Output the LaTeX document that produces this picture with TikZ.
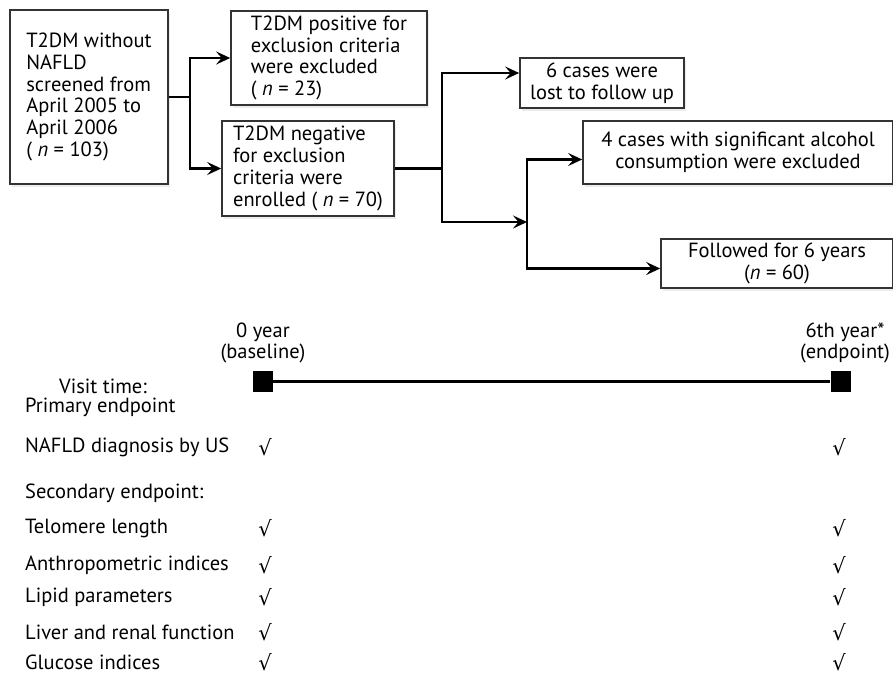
\documentclass[tikz,border=0pt]{standalone}
\usepackage{fontspec}
\setmainfont{PT Sans}
\newfontfamily\checkfont{DejaVu Sans}
\usetikzlibrary{arrows.meta,shadows}

\begin{document}
\begin{tikzpicture}[x=1pt, y=-1pt, font=\fontsize{20.5}{21.8}\selectfont,
  box/.style={draw=black!80, line width=1.7pt, fill=white, align=left, inner sep=3pt,
    drop shadow={opacity=0.15, shadow xshift=2pt, shadow yshift=-2.5pt}},
  arr/.style={line width=2.6pt, -{Stealth[length=14pt, width=13pt, inset=5.5pt]}},
  link/.style={line width=2.6pt},
  tick/.style={font=\checkfont\fontsize{21}{22}\selectfont},
  row/.style={anchor=west, inner sep=0pt}]
  \useasboundingbox (0,0) rectangle (893,675);
  % flow chart, top part
  \node[box, minimum width=158, minimum height=174] (screen) at (89,97)
    {T2DM without\\NAFLD\\screened from\\April 2005 to\\April 2006\\( \textit{n} = 103)};
  \node[box, minimum width=196, minimum height=94] (excl) at (329,58)
    {T2DM positive for\\exclusion criteria\\were excluded\\( \textit{n} = 23)};
  \node[box, minimum width=172, minimum height=95] (enrol) at (308,168.5)
    {T2DM negative\\for exclusion\\criteria were\\enrolled ( \textit{n} = 70)};
  \node[box, align=center, minimum width=164, minimum height=50] (lost) at (602,83)
    {6 cases were\\lost to follow up};
  \node[box, align=center, minimum width=310, minimum height=63] (alc) at (738,152.5)
    {4 cases with significant alcohol\\consumption were excluded};
  \node[box, align=center, minimum width=232, minimum height=49] (fol) at (777,263.5)
    {Followed for 6 years\\(\textit{n} = 60)};
  % split points
  \coordinate (s1) at (190,97);
  \coordinate (s2) at (442,168.5);
  \coordinate (s3) at (527,222);
  \draw[link] (screen.east) -- (s1);
  \draw[arr] (s1) |- (excl.west);
  \draw[arr] (s1) |- (enrol.west);
  \draw[link] (enrol.east) -- (s2);
  \draw[arr] (s2) |- ([yshift=10pt]lost.west);
  \draw[arr] (s2) |- (s3);
  \draw[arr] (s3) |- ([yshift=-7pt]alc.west);
  \draw[arr] (s3) |- ([yshift=-5pt]fol.west);
  % time line
  \node[fill=black, minimum width=20, minimum height=21, inner sep=0pt] (base) at (263,381.5) {};
  \node[fill=black, minimum width=20, minimum height=21, inner sep=0pt] (endp) at (840.5,381.5) {};
  \draw[line width=2.6pt] (base) -- (endp);
  \node[align=center, inner sep=0pt] (lbase) at (263,343) {0 year\\(baseline)};
  \node[align=center, inner sep=0pt] (lendp) at (845,343) {6th year*\\(endpoint)};
  \node[inner sep=0pt] (visit) at (103,386) {Visit time:};
  % endpoints
  \node[row] (prim) at (25,407) {Primary endpoint};
  \node[row] (nafld) at (25,447) {NAFLD diagnosis by US};
  \node[row] (sec) at (25,493) {Secondary endpoint:};
  \node[row] (telo) at (25,528) {Telomere length};
  \node[row] (anth) at (25,565) {Anthropometric indices};
  \node[row] (lipid) at (25,597) {Lipid parameters};
  \node[row] (liver) at (25,632) {Liver and renal function};
  \node[row] (gluc) at (25,662) {Glucose indices};
  % checks at baseline and endpoint
  \node[tick] (c1a) at (265,447) {√};  \node[tick] (c1b) at (839,447) {√};
  \node[tick] (c2a) at (265,528) {√};  \node[tick] (c2b) at (839,528) {√};
  \node[tick] (c3a) at (265,565) {√};  \node[tick] (c3b) at (839,565) {√};
  \node[tick] (c4a) at (265,597) {√};  \node[tick] (c4b) at (839,597) {√};
  \node[tick] (c5a) at (265,632) {√};  \node[tick] (c5b) at (839,632) {√};
  \node[tick] (c6a) at (265,662) {√};  \node[tick] (c6b) at (839,662) {√};
\end{tikzpicture}
\end{document}
